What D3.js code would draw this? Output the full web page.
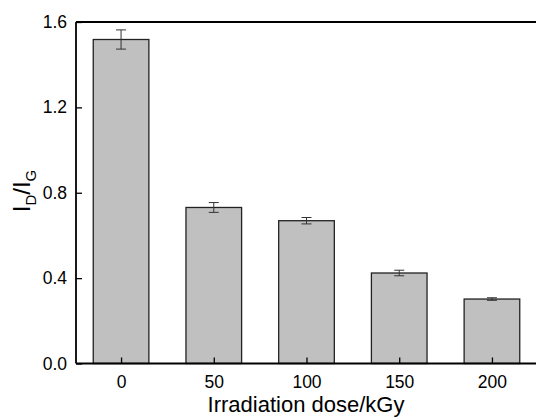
<!DOCTYPE html>
<html>
<head>
<meta charset="utf-8">
<script src="https://cdn.jsdelivr.net/npm/d3@7"></script>
<style>
  html, body { margin: 0; padding: 0; background: #fff; }
  svg text { font-family: "Liberation Sans", Arial, sans-serif; fill: #000; }
</style>
</head>
<body>
<svg id="chart" width="536" height="419"></svg>
<script>
// Irradiation dose (kGy) and D/G band intensity ratio with error
const doses = [0, 50, 100, 150, 200];
const ratio = [1.518, 0.731, 0.669, 0.424, 0.302];
const ratioErr = [0.045, 0.023, 0.015, 0.013, 0.006];
const yTicks = [0.0, 0.4, 0.8, 1.2, 1.6];

const svg = d3.select("#chart");
const plotLeft = 76, plotTop = 22, plotBottom = 363.5, plotRight = 537;

const x = d3.scaleLinear().domain([-24.3, 224.3]).range([plotLeft, plotRight]);
const y = d3.scaleLinear().domain([0, 1.6]).range([plotBottom, plotTop]);
const barW = x(30) - x(0);

const data = doses.map((d, i) => ({ dose: d, v: ratio[i], e: ratioErr[i] }));

// bars
svg.append("g").selectAll("rect").data(data).join("rect")
  .attr("x", d => x(d.dose) - barW / 2)
  .attr("y", d => y(d.v))
  .attr("width", barW)
  .attr("height", d => y(0) - y(d.v))
  .attr("fill", "#c0c0c0")
  .attr("stroke", "#222")
  .attr("stroke-width", 1.3);

// error bars
const eb = svg.append("g").attr("stroke", "#333").attr("stroke-width", 1);
data.forEach(d => {
  const cx = x(d.dose);
  eb.append("line").attr("x1", cx).attr("x2", cx).attr("y1", y(d.v + d.e)).attr("y2", y(d.v - d.e));
  eb.append("line").attr("x1", cx - 5).attr("x2", cx + 5).attr("y1", y(d.v + d.e)).attr("y2", y(d.v + d.e));
  eb.append("line").attr("x1", cx - 5).attr("x2", cx + 5).attr("y1", y(d.v - d.e)).attr("y2", y(d.v - d.e));
});

// frame: top line and axes
svg.append("line").attr("x1", plotLeft).attr("x2", 536).attr("y1", plotTop).attr("y2", plotTop)
  .attr("stroke", "#000").attr("stroke-width", 1.8);

const yAxis = svg.append("g").attr("transform", `translate(${plotLeft},0)`)
  .call(d3.axisLeft(y).tickValues(yTicks).tickSize(-6).tickPadding(9).tickFormat(d3.format(".1f")));
const xAxis = svg.append("g").attr("transform", `translate(0,${plotBottom})`)
  .call(d3.axisBottom(x).tickValues(doses).tickSize(-6).tickPadding(12).tickFormat(d3.format("d")));

[yAxis, xAxis].forEach(a => {
  a.select(".domain").attr("stroke", "#000").attr("stroke-width", 1.8);
  a.selectAll(".tick line").attr("stroke", "#000").attr("stroke-width", 1.3);
  a.selectAll(".tick text").attr("font-size", 17.5).attr("fill", "#000")
    .style("font-family", "'Liberation Sans', Arial, sans-serif");
});
yAxis.select(".domain").attr("d", `M0,${plotBottom}V${plotTop}`);
xAxis.select(".domain").attr("d", `M${plotLeft},0H536`);

// axis titles
svg.append("text").attr("x", 306).attr("y", 412).attr("text-anchor", "middle")
  .attr("font-size", 22).text("Irradiation dose/kGy");

const yl = svg.append("text").attr("transform", "translate(30,191) rotate(-90)")
  .attr("text-anchor", "middle").attr("font-size", 24);
yl.append("tspan").text("I");
yl.append("tspan").attr("font-size", 15).attr("dy", 6).text("D");
yl.append("tspan").attr("dy", -6).text("/I");
yl.append("tspan").attr("font-size", 15).attr("dy", 6).text("G");
</script>
</body>
</html>
